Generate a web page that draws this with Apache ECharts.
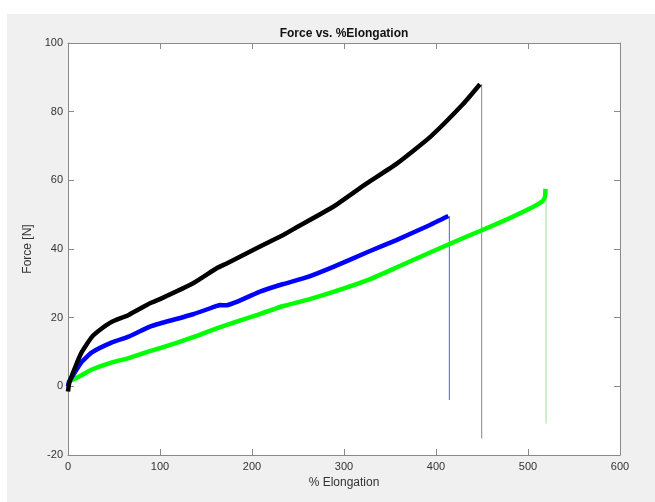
<!DOCTYPE html>
<html>
<head>
<meta charset="utf-8">
<script src="https://cdn.jsdelivr.net/npm/echarts@6/dist/echarts.min.js"></script>
<style>
html,body{margin:0;padding:0;background:#ffffff;width:655px;height:502px;overflow:hidden;}
#chart{position:absolute;left:7px;top:14px;width:648px;height:488px;background:#f0f0f0;}
</style>
</head>
<body>
<div id="chart"></div>
<script>
// ---- data ----
var titleText = 'Force vs. %Elongation';
var xName = '% Elongation';
var yName = 'Force [N]';
var xTicks = [0, 100, 200, 300, 400, 500, 600];
var yTicks = [-20, 0, 20, 40, 60, 80, 100];

var blackX = [0, 1.4, 8, 15.2, 26, 37, 47.8, 66, 89.1, 100, 136, 161.6, 172.5, 208.7, 234, 245, 288.4, 324.7, 357, 393.5, 429.7, 447.8];
var blackY = [-1.5, 1, 5.7, 10.1, 14.4, 16.9, 18.8, 20.8, 24.2, 25.4, 30.0, 34.4, 35.8, 40.7, 44.1, 45.8, 52.3, 59.1, 64.8, 72.6, 82.3, 88.0];
var blackDropX = [449.6, 449.6];
var blackDropY = [88.0, -15.2];

var blueX = [0, 1.4, 8, 15.2, 26, 47.8, 66, 89.1, 100, 136, 161.6, 165, 172, 208.7, 234, 260, 288.4, 326.4, 357, 393.5, 413.4];
var blueY = [0, 1.5, 4.3, 7.2, 9.9, 12.8, 14.5, 17.4, 18.3, 21.0, 23.4, 23.7, 23.6, 27.6, 29.8, 31.8, 34.8, 39.2, 42.6, 47.0, 49.6];
var blueDropX = [414.5, 414.5];
var blueDropY = [49.6, -4.0];

var greenX = [0, 1.4, 8, 15.2, 26, 47.8, 66, 89.5, 100, 136, 161.6, 200, 234, 260, 288.4, 326.4, 357, 393.5, 429.7, 466, 502, 516, 518.5, 519];
var greenY = [0, 1.5, 2.3, 3.3, 4.9, 7.0, 8.2, 10.3, 11.1, 14.3, 16.9, 20.3, 23.4, 25.2, 27.5, 31.0, 34.6, 39.0, 43.2, 47.3, 51.8, 54.0, 55.3, 57.5];
var greenDropX = [519.6, 519.6];
var greenDropY = [55.3, -10.8];

function pairs(xs, ys){ var out=[]; for(var i=0;i<xs.length;i++){ out.push([xs[i], ys[i]]); } return out; }

var chart = echarts.init(document.getElementById('chart'), null, {renderer:'canvas'});
var axisColor = '#8a8a8a';
var labelColor = '#333333';
var font = '"Liberation Sans", Arial, Helvetica, sans-serif';

function xAxisDef(pos, showLabels){
  return {
    type:'value', position:pos, min:xTicks[0], max:xTicks[xTicks.length-1], interval:xTicks[1]-xTicks[0],
    name: showLabels ? xName : '', nameLocation:'middle', nameGap:22,
    nameTextStyle:{color:labelColor, fontSize:12, fontFamily:font},
    axisLine:{show:true, onZero:false, lineStyle:{color:axisColor, width:1}},
    axisTick:{show:true, inside:true, length:6, lineStyle:{color:axisColor}},
    axisLabel:{show:showLabels, color:labelColor, fontSize:11, fontFamily:font, margin:6},
    splitLine:{show:false}
  };
}
function yAxisDef(pos, showLabels){
  return {
    type:'value', position:pos, min:yTicks[0], max:yTicks[yTicks.length-1], interval:yTicks[1]-yTicks[0],
    name: showLabels ? yName : '', nameLocation:'middle', nameGap:25,
    nameTextStyle:{color:labelColor, fontSize:12, fontFamily:font},
    axisLine:{show:true, onZero:false, lineStyle:{color:axisColor, width:1}},
    axisTick:{show:true, inside:true, length:6, lineStyle:{color:axisColor}},
    axisLabel:{show:showLabels, color:labelColor, fontSize:11, fontFamily:font, margin:5},
    splitLine:{show:false}
  };
}

function lineSeries(data, color, width, smooth){
  return {
    type:'line', data:data, xAxisIndex:0, yAxisIndex:0, showSymbol:false, symbol:'none',
    smooth:smooth, lineStyle:{color:color, width:width, join:'round', cap:'butt'}, animation:false, silent:true
  };
}

chart.setOption({
  backgroundColor:'#f0f0f0',
  animation:false,
  graphic:[{
    type:'text', x:337, y:20,
    style:{text:titleText, align:'center', verticalAlign:'middle', textAlign:'center', textVerticalAlign:'middle',
      fill:'#111111', font:'bold 12px "Liberation Sans", Arial, sans-serif'}
  }],
  grid:{left:61, top:29, right:35, bottom:47, show:true, backgroundColor:'#ffffff', borderWidth:0},
  xAxis:[xAxisDef('bottom', true), xAxisDef('top', false)],
  yAxis:[yAxisDef('left', true), yAxisDef('right', false)],
  series:[
    lineSeries(pairs(greenDropX, greenDropY), '#8fe88f', 1, false),
    lineSeries(pairs(blueDropX, blueDropY), '#5a5ad8', 1, false),
    lineSeries(pairs(blackDropX, blackDropY), '#9a9a9a', 1.2, false),
    lineSeries(pairs(greenX, greenY), '#00ff00', 4.5, 0.15),
    lineSeries(pairs(blueX, blueY), '#0000ff', 4.5, 0.15),
    lineSeries(pairs(blackX, blackY), '#000000', 4.5, 0.15)
  ]
});
</script>
</body>
</html>
